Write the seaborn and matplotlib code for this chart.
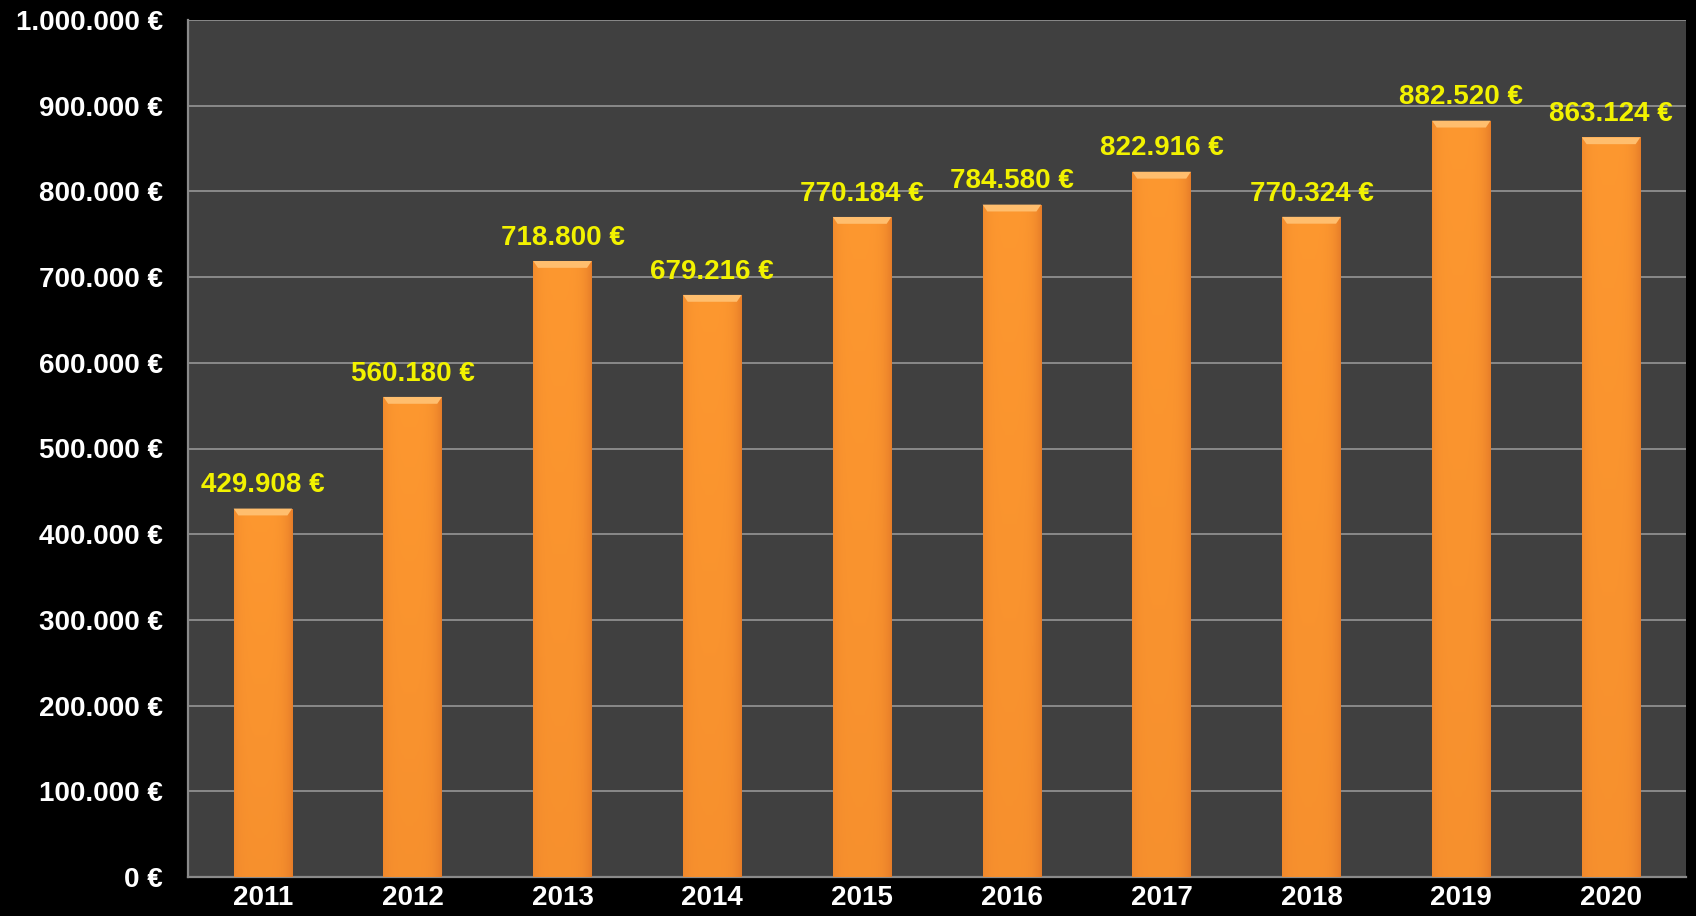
import numpy as np
import pandas as pd
import matplotlib
matplotlib.use("Agg")
import matplotlib.pyplot as plt
from matplotlib.colors import LinearSegmentedColormap
from matplotlib.ticker import FuncFormatter, MultipleLocator
import seaborn as sns

# ── Data ──────────────────────────────────────────────────────────────────────
years  = ["2011", "2012", "2013", "2014", "2015", "2016", "2017", "2018", "2019", "2020"]
values = [429908, 560180, 718800, 679216, 770184, 784580, 822916, 770324, 882520, 863124]

df = pd.DataFrame({"year": years, "value": values})

BAR    = "#F7931E"
PANEL  = "#404040"
GRID   = "#8a8a8a"
LABEL  = "#F2F200"
FS     = 20

sns.set_style("dark")
plt.rcParams.update({
    "font.family": ["Liberation Sans", "DejaVu Sans"],
    "font.weight": "bold",
    "font.size":   FS,
})


def euro(v, _=None):
    return f"{int(v):,} €".replace(",", ".")


fig = plt.figure(figsize=(16.96, 9.16), dpi=100, facecolor="black")
ax = fig.add_axes([188 / 1696, 1 - 877 / 916, (1686 - 188) / 1696, (877 - 20) / 916])
ax.set_facecolor(PANEL)

sns.barplot(data=df, x="year", y="value", color=BAR, width=0.39,
            saturation=1, ax=ax, zorder=3, edgecolor="none", linewidth=0)

# gradient fill on each bar (slightly darker edges and bottom)
cmap = LinearSegmentedColormap.from_list("bar", ["#C8651C", "#E9802A", "#FF9A30"])
xs = np.linspace(0, 1, 64)
hor = np.clip(1 - (np.abs(xs - 0.45) / 0.55) ** 4, 0, 1)
ys = np.linspace(0, 1, 128)[:, None]
img = 0.45 + 0.5 * hor[None, :] * (0.72 + 0.28 * ys)
for p in ax.patches:
    x0, y0 = p.get_x(), p.get_y()
    w, h = p.get_width(), p.get_height()
    im = ax.imshow(img, cmap=cmap, vmin=0, vmax=1, aspect="auto", origin="lower",
                   extent=[x0, x0 + w, y0, y0 + h], zorder=3.5, interpolation="bicubic")
    im.set_clip_path(p)
    # bevel highlight on top
    ax.fill([x0, x0 + w, x0 + w * 0.92, x0 + w * 0.08], [y0 + h, y0 + h, y0 + h - 8000, y0 + h - 8000],
            color="#FFBE6E", zorder=3.6, lw=0)

# value labels
for i, v in enumerate(values):
    ax.text(i, v + 12000, euro(v), ha="center", va="bottom",
            color=LABEL, fontsize=FS, fontweight="bold", zorder=5)

# axes
ax.set_xlim(-0.5, len(years) - 0.5)
ax.set_ylim(0, 1_000_000)
ax.yaxis.set_major_locator(MultipleLocator(100000))
ax.yaxis.set_major_formatter(FuncFormatter(euro))
ax.grid(axis="y", color=GRID, linewidth=1.4, zorder=1)
ax.grid(axis="x", visible=False)
ax.set_axisbelow(True)
ax.set_xlabel("")
ax.set_ylabel("")

ax.set_xticks(np.arange(-0.5, len(years), 1), minor=True)
ax.tick_params(axis="x", which="major", length=0, colors="white", labelsize=FS, pad=6)
ax.tick_params(axis="x", which="minor", length=7, color=GRID, width=1.4, direction="out")
ax.tick_params(axis="y", length=8, color=GRID, width=1.4, direction="out",
               colors="white", labelsize=FS, pad=10)
for lbl in ax.get_xticklabels() + ax.get_yticklabels():
    lbl.set_fontweight("bold")

for side in ["top", "right"]:
    ax.spines[side].set_visible(False)
for side in ["left", "bottom"]:
    ax.spines[side].set_visible(True)
    ax.spines[side].set_color(GRID)
    ax.spines[side].set_linewidth(1.6)

fig.savefig("out.png", dpi=100, facecolor="black")
